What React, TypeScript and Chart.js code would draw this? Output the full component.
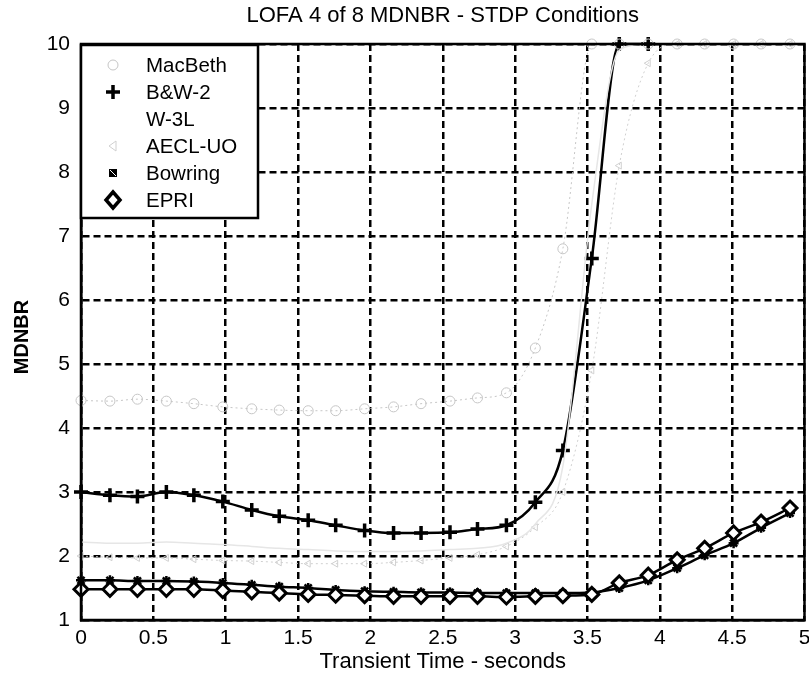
import React, { useEffect, useRef } from "react";
import { Chart, registerables } from "chart.js";

Chart.register(...registerables);

// ---- data ----
const times = [0, 0.2, 0.39, 0.59, 0.78, 0.98, 1.18, 1.37, 1.57, 1.76, 1.96, 2.16, 2.35, 2.55, 2.74, 2.94, 3.14, 3.33, 3.53, 3.72, 3.92, 4.12, 4.31, 4.51, 4.7, 4.9];

const macBeth = [4.43, 4.42, 4.45, 4.42, 4.38, 4.33, 4.3, 4.28, 4.27, 4.27, 4.3, 4.33, 4.38, 4.42, 4.47, 4.55, 5.25, 6.8, 10, 10, 10, 10, 10, 10, 10, 10];
const bw2 = [3.0, 2.95, 2.93, 3.0, 2.95, 2.85, 2.72, 2.62, 2.56, 2.48, 2.4, 2.36, 2.36, 2.37, 2.42, 2.48, 2.84, 3.65, 6.65, 10, 10];
const w3l = [2.22, 2.2, 2.2, 2.22, 2.2, 2.18, 2.15, 2.12, 2.1, 2.08, 2.07, 2.07, 2.08, 2.1, 2.12, 2.2, 2.5, 3.4, 7.5, 9.9, 10, 10, 10, 10, 10, 10];
const aeclUo = [2.0, 1.98, 1.97, 1.97, 1.95, 1.93, 1.92, 1.9, 1.88, 1.88, 1.88, 1.9, 1.93, 1.97, 2.02, 2.15, 2.45, 3.0, 4.9, 8.1, 9.7, 10, 10, 10, 10, 10];
const bowring = [1.62, 1.62, 1.61, 1.61, 1.6, 1.58, 1.55, 1.52, 1.5, 1.47, 1.45, 1.44, 1.43, 1.43, 1.42, 1.42, 1.42, 1.42, 1.43, 1.5, 1.62, 1.81, 2.01, 2.2, 2.44, 2.67];
const epri = [1.48, 1.48, 1.48, 1.48, 1.48, 1.46, 1.44, 1.42, 1.4, 1.39, 1.38, 1.37, 1.37, 1.37, 1.37, 1.36, 1.37, 1.38, 1.4, 1.58, 1.7, 1.94, 2.12, 2.36, 2.53, 2.75];

const seriesNames = ["MacBeth", "B&W-2", "W-3L", "AECL-UO", "Bowring", "EPRI"];
const TITLE = "LOFA 4 of 8 MDNBR - STDP Conditions";
const X_TITLE = "Transient Time - seconds";
const Y_TITLE = "MDNBR";

const FONT = '"Liberation Sans", Arial, sans-serif';
const FAINT = "#c6c6c6";
const FAINT2 = "#d0d0d0";
const FAINT3 = "#e6e6e6";

const pts = (ys: number[]) => ys.map((y, i) => ({ x: times[i], y }));

function drawMarker(ctx: CanvasRenderingContext2D, kind: string, x: number, y: number) {
  ctx.save();
  ctx.setLineDash([]);
  if (kind === "circle") {
    ctx.strokeStyle = FAINT;
    ctx.lineWidth = 1;
    ctx.beginPath();
    ctx.arc(x, y, 5, 0, Math.PI * 2);
    ctx.stroke();
  } else if (kind === "cross") {
    ctx.strokeStyle = "#000";
    ctx.lineWidth = 3.5;
    ctx.beginPath();
    ctx.moveTo(x - 7, y);
    ctx.lineTo(x + 7, y);
    ctx.moveTo(x, y - 7);
    ctx.lineTo(x, y + 7);
    ctx.stroke();
  } else if (kind === "triangle") {
    ctx.strokeStyle = FAINT2;
    ctx.lineWidth = 1;
    ctx.beginPath();
    ctx.moveTo(x - 4, y);
    ctx.lineTo(x + 3, y - 5);
    ctx.lineTo(x + 3, y + 5);
    ctx.closePath();
    ctx.stroke();
  } else if (kind === "star") {
    ctx.fillStyle = "#000";
    ctx.fillRect(x - 4, y - 4, 8, 8);
    ctx.strokeStyle = "#fff";
    ctx.lineWidth = 1;
    ctx.beginPath();
    ctx.moveTo(x - 3, y - 3);
    ctx.lineTo(x + 3, y + 3);
    ctx.stroke();
  } else if (kind === "diamond") {
    ctx.strokeStyle = "#000";
    ctx.fillStyle = "#fff";
    ctx.lineWidth = 3.5;
    ctx.beginPath();
    ctx.moveTo(x, y - 8);
    ctx.lineTo(x + 7, y);
    ctx.lineTo(x, y + 8);
    ctx.lineTo(x - 7, y);
    ctx.closePath();
    ctx.fill();
    ctx.stroke();
  }
  ctx.restore();
}

const legendMarkers = ["circle", "cross", "none", "triangle", "star", "diamond"];

const overlayPlugin = {
  id: "overlay",
  afterDraw(chart: any) {
    const { ctx, chartArea: a } = chart;
    ctx.save();
    // plot frame
    ctx.setLineDash([]);
    ctx.strokeStyle = "#000";
    ctx.lineWidth = 2.5;
    ctx.strokeRect(a.left, a.top, a.right - a.left, a.bottom - a.top);

    // titles
    ctx.fillStyle = "#000";
    ctx.font = `22px ${FONT}`;
    ctx.textAlign = "center";
    ctx.textBaseline = "middle";
    ctx.fillText(TITLE, (a.left + a.right) / 2, 16);
    ctx.fillText(X_TITLE, (a.left + a.right) / 2, 662);
    ctx.save();
    ctx.translate(22, (a.top + a.bottom) / 2 + 5);
    ctx.rotate(-Math.PI / 2);
    ctx.font = `bold 20px ${FONT}`;
    ctx.fillText(Y_TITLE, 0, 0);
    ctx.restore();

    // legend box
    const lx = a.left, ly = a.top + 1, lw = 177, lh = 173;
    ctx.fillStyle = "#fff";
    ctx.fillRect(lx, ly, lw, lh);
    ctx.strokeStyle = "#000";
    ctx.lineWidth = 2.5;
    ctx.strokeRect(lx, ly, lw, lh);
    ctx.font = `20.5px ${FONT}`;
    ctx.textAlign = "left";
    ctx.fillStyle = "#000";
    seriesNames.forEach((name, i) => {
      const yy = ly + 20 + i * 27;
      drawMarker(ctx, legendMarkers[i], lx + 32, yy);
      ctx.fillStyle = "#000";
      ctx.fillText(name, lx + 65, yy + 1);
    });
    ctx.restore();
  },
};

export default function App() {
  const ref = useRef<HTMLCanvasElement>(null);
  useEffect(() => {
    if (!ref.current) return;
    const chart = new Chart(ref.current, {
      type: "line",
      data: {
        datasets: [
          {
            label: seriesNames[2],
            data: pts(w3l),
            borderColor: FAINT3,
            borderWidth: 1.5,
            pointRadius: 0,
            cubicInterpolationMode: "monotone",
            clip: false,
          },
          {
            label: seriesNames[3],
            data: pts(aeclUo),
            borderColor: FAINT2,
            borderWidth: 1,
            borderDash: [2, 3],
            pointStyle: "triangle",
            rotation: -90,
            pointRadius: 4,
            pointBorderWidth: 1,
            pointBorderColor: FAINT2,
            pointBackgroundColor: "rgba(0,0,0,0)",
            cubicInterpolationMode: "monotone",
            clip: false,
          },
          {
            label: seriesNames[0],
            data: pts(macBeth),
            borderColor: FAINT,
            borderWidth: 1,
            borderDash: [2, 3],
            pointStyle: "circle",
            pointRadius: 5,
            pointBorderWidth: 1,
            pointBorderColor: FAINT,
            pointBackgroundColor: "rgba(0,0,0,0)",
            cubicInterpolationMode: "monotone",
            clip: false,
          },
          {
            label: seriesNames[5],
            data: pts(epri),
            borderColor: "#000",
            borderWidth: 2.5,
            pointStyle: "rectRot",
            pointRadius: 7,
            pointBorderWidth: 3,
            pointBorderColor: "#000",
            pointBackgroundColor: "#fff",
            cubicInterpolationMode: "monotone",
            clip: false,
          },
          {
            label: seriesNames[4],
            data: pts(bowring),
            borderColor: "#000",
            borderWidth: 2.5,
            pointStyle: "star",
            pointRadius: 5,
            pointBorderWidth: 2.5,
            pointBorderColor: "#000",
            cubicInterpolationMode: "monotone",
            clip: false,
          },
          {
            label: seriesNames[1],
            data: pts(bw2),
            borderColor: "#000",
            borderWidth: 2.5,
            pointStyle: "cross",
            pointRadius: 7,
            pointBorderWidth: 3.5,
            pointBorderColor: "#000",
            cubicInterpolationMode: "monotone",
            clip: false,
          },
        ],
      },
      options: {
        animation: false,
        responsive: false,
        devicePixelRatio: 1,
        layout: { padding: { top: 44, right: 0, left: 0, bottom: 0 } },
        plugins: {
          legend: { display: false },
          title: { display: false },
          tooltip: { enabled: false },
        },
        scales: {
          x: {
            type: "linear",
            min: 0,
            max: 5,
            afterFit: (s: any) => {
              s.height = 60;
            },
            ticks: {
              stepSize: 0.5,
              color: "#000",
              font: { family: FONT, size: 21 },
              padding: 0,
              maxRotation: 0,
              callback: (v: any) => String(Math.round(Number(v) * 10) / 10),
            },
            grid: {
              color: "#000",
              lineWidth: 2.5,
              drawTicks: true,
              tickLength: 6,
              tickColor: "rgba(0,0,0,0)",
            },
            border: { display: true, color: "#000", width: 2.5, dash: [7, 4] },
          },
          y: {
            type: "linear",
            min: 1,
            max: 10,
            afterFit: (s: any) => {
              s.width = 81;
            },
            ticks: {
              stepSize: 1,
              color: "#000",
              font: { family: FONT, size: 21 },
              padding: 11,
            },
            grid: { color: "#000", lineWidth: 2.5, drawTicks: false },
            border: { display: true, color: "#000", width: 2.5, dash: [7, 4] },
          },
        },
      },
      plugins: [overlayPlugin],
    } as any);
    return () => chart.destroy();
  }, []);
  return (
    <div
      style={{
        position: "absolute",
        left: 0,
        top: 0,
        width: 809,
        height: 680,
        overflow: "hidden",
        background: "#fff",
      }}
    >
      <canvas ref={ref} width={815} height={680} style={{ display: "block" }} />
    </div>
  );
}
